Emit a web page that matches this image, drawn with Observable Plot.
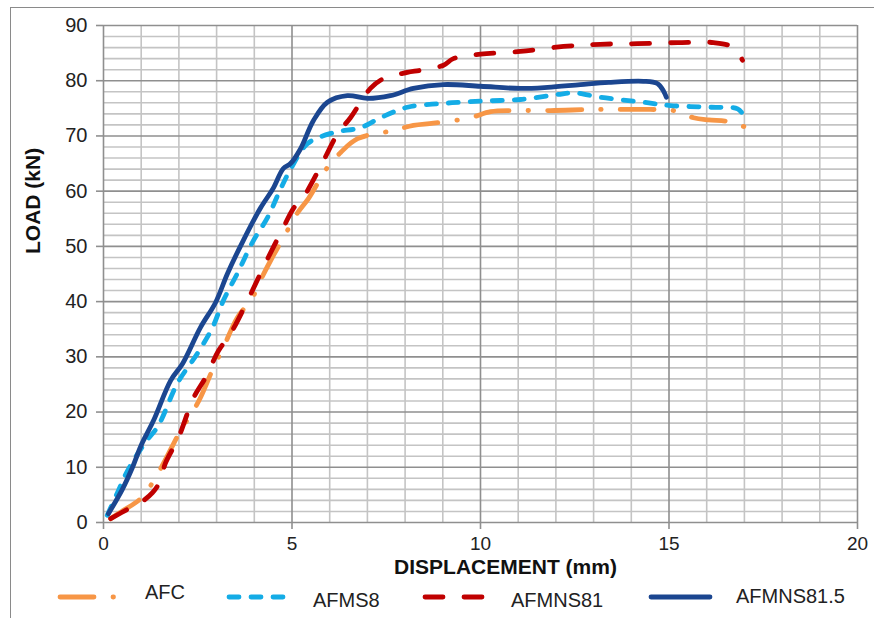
<!DOCTYPE html>
<html>
<head>
<meta charset="utf-8">
<script src="https://cdn.jsdelivr.net/npm/d3@7"></script>
<script src="https://cdn.jsdelivr.net/npm/@observablehq/plot@0.6"></script>
<style>
  html, body { margin: 0; padding: 0; background: #fff; }
  #wrap { position: relative; width: 874px; height: 618px; overflow: hidden; font-family: "Liberation Sans", Arial, sans-serif; }
  #border { position: absolute; left: 10px; top: 7px; width: 900px; height: 700px; border-left: 1.5px solid #8a8a8a; border-top: 1.5px solid #8a8a8a; }
  #chart { position: absolute; left: 0; top: 0; }
  #legend { position: absolute; left: 0; top: 580px; }
</style>
</head>
<body>
<div id="wrap"><div id="border"></div><div id="chart"></div><div id="legend"></div></div>
<script>
// ---- Data (displacement mm, load kN) ----
const seriesNames = ["AFC", "AFMS8", "AFMNS81", "AFMNS81.5"];
const afc = [[0.19,0.7],[0.53,2.2],[0.98,4.3],[1.3,7.2],[1.59,10.7],[1.86,14.3],[2.1,17.3],[2.31,19.4],[2.57,22.6],[2.92,28.1],[3.18,31.7],[3.55,37.1],[3.95,40.7],[4.16,43.8],[4.43,47.4],[4.88,52.9],[5.14,56.0],[5.44,58.7],[5.94,64.3],[6.29,67.0],[6.74,69.5],[7.69,71.0],[8.22,71.9],[8.75,72.3],[9.73,73.3],[10.27,74.4],[10.88,74.6],[11.86,74.6],[13.0,74.8],[13.98,74.8],[14.5,74.8],[15.12,74.6],[15.65,73.3],[16.05,72.9],[16.58,72.6],[17.08,71.5],[17.24,71.3]];
const afms8 = [[0.1,1.3],[0.37,5.4],[0.64,9.4],[1.11,14.5],[1.45,17.5],[1.96,25.2],[2.49,30.6],[2.89,35.3],[3.18,40.2],[3.55,45.1],[3.98,51.1],[4.35,55.2],[4.69,60.3],[4.98,64.2],[5.41,68.6],[6.1,70.6],[6.82,71.5],[7.35,73.3],[8.06,75.2],[9.02,75.9],[10.0,76.3],[11.06,76.6],[12.04,77.5],[12.5,77.8],[13.18,77.0],[14.32,76.1],[15.04,75.5],[16.1,75.2],[16.82,74.9],[16.98,73.7]];
const afmns81 = [[0.19,0.7],[0.72,2.7],[0.98,3.6],[1.3,5.4],[1.51,7.6],[1.64,10.7],[1.99,15.4],[2.39,22.6],[2.71,26.3],[3.05,31.1],[3.37,34.2],[3.95,42.0],[4.24,46.2],[4.77,53.4],[5.04,56.9],[5.3,58.9],[5.76,64.5],[6.21,70.4],[6.55,73.3],[7.08,78.6],[7.43,80.4],[8.06,81.5],[8.41,81.9],[9.02,82.8],[9.28,84.0],[10.0,84.8],[11.06,85.3],[12.2,86.2],[13.18,86.6],[14.16,86.7],[15.23,86.9],[16.18,86.9],[16.71,86.0],[16.95,83.7]];
const afmns815 = [[0.13,1.6],[0.5,6.0],[0.77,10.0],[1.0,14.0],[1.33,18.5],[1.78,25.7],[2.1,28.8],[2.57,35.3],[2.97,39.8],[3.29,45.1],[3.71,51.1],[4.16,56.9],[4.5,60.5],[4.77,64.1],[4.96,65.0],[5.22,67.6],[5.57,72.8],[5.94,76.1],[6.47,77.3],[7.0,76.8],[7.61,77.3],[8.22,78.6],[9.02,79.3],[10.0,79.0],[11.06,78.6],[11.78,78.8],[12.65,79.3],[13.4,79.7],[14.32,79.9],[14.69,79.5],[14.85,78.2],[14.93,77.0]];

const xTicks = [0, 5, 10, 15, 20];
const yTicks = [0, 10, 20, 30, 40, 50, 60, 70, 80, 90];
const xMinor = d3.range(0, 21, 1);
const yMinor = d3.range(0, 91, 2);

const styles = [
  {name: "AFC", data: afc, color: "#f79646", dash: "34,19,0.5,19"},
  {name: "AFMS8", data: afms8, color: "#14ace6", dash: "10,12"},
  {name: "AFMNS81", data: afmns81, color: "#c00000", dash: "18,21"},
  {name: "AFMNS81.5", data: afmns815, color: "#1b4690", dash: null}
];

const lineMarks = styles.map(s => Plot.line(s.data, {
  x: d => d[0], y: d => d[1],
  stroke: s.color, strokeWidth: 4.8,
  strokeDasharray: s.dash || undefined,
  strokeLinecap: "round", strokeLinejoin: "round",
  curve: "catmull-rom"
}));

const chart = Plot.plot({
  width: 874,
  height: 580,
  marginLeft: 103,
  marginRight: 17,
  marginTop: 25,
  marginBottom: 58,
  style: {fontFamily: "'Liberation Sans', Arial, sans-serif", fontSize: "20px", color: "#222", background: "transparent"},
  x: {domain: [0, 20]},
  y: {domain: [0, 90]},
  marks: [
    Plot.gridX(xMinor.filter(v => v % 5 !== 0), {stroke: "#c4c4c4", strokeOpacity: 1, strokeWidth: 1.6}),
    Plot.gridY(yMinor.filter(v => v % 10 !== 0), {stroke: "#c4c4c4", strokeOpacity: 1, strokeWidth: 1.6}),
    Plot.gridX(xTicks, {stroke: "#8f8f8f", strokeOpacity: 1, strokeWidth: 1.6}),
    Plot.gridY(yTicks, {stroke: "#8f8f8f", strokeOpacity: 1, strokeWidth: 1.6}),
    Plot.axisX({ticks: xTicks, tickSize: 7, tickPadding: 7, fontSize: 19, label: null, stroke: "#8f8f8f", strokeWidth: 1.6, fill: "#222"}),
    Plot.axisY({ticks: yTicks, tickSize: 7, tickPadding: 9, fontSize: 20, label: null, stroke: "#8f8f8f", strokeWidth: 1.6, fill: "#222"}),
    ...lineMarks,
    Plot.text(["DISPLACEMENT (mm)"], {frameAnchor: "bottom", dx: 25, dy: 51, text: d => d, fontSize: 21, fontWeight: "bold", fill: "#111"}),
    Plot.text(["LOAD (kN)"], {frameAnchor: "left", dx: -70, dy: -20, rotate: -90, text: d => d, fontSize: 21, fontWeight: "bold", fill: "#111"})
  ]
});
document.getElementById("chart").appendChild(chart);

// ---- Legend ----
const legendPos = [
  {x0: 60, x1: 118, tx: 145, ty: 12},
  {x0: 229, x1: 283, tx: 313, ty: 20},
  {x0: 425, x1: 482, tx: 511, ty: 20},
  {x0: 651, x1: 710, tx: 736, ty: 16}
];
const lg = d3.select("#legend").append("svg").attr("width", 874).attr("height", 38);
styles.forEach((s, i) => {
  const p = legendPos[i];
  lg.append("line").attr("x1", p.x0).attr("x2", p.x1).attr("y1", 17).attr("y2", 17)
    .attr("stroke", s.color).attr("stroke-width", 4.8).attr("stroke-linecap", "round")
    .attr("stroke-dasharray", s.dash);
  lg.append("text").attr("x", p.tx).attr("y", p.ty).attr("dy", "0.35em")
    .attr("font-family", "'Liberation Sans', Arial, sans-serif").attr("font-size", 20).attr("fill", "#222")
    .text(s.name);
});
</script>
</body>
</html>
